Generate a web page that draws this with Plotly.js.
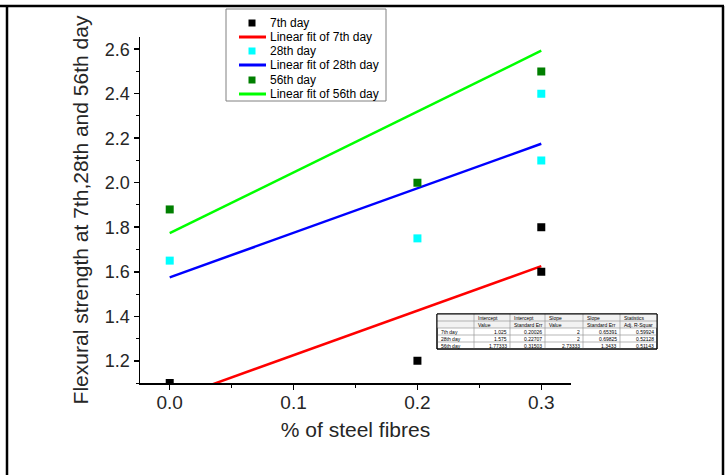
<!DOCTYPE html>
<html>
<head>
<meta charset="utf-8">
<script src="https://cdn.plot.ly/plotly-3.0.1.min.js"></script>
<style>html,body{margin:0;padding:0;background:#fff;}#chart{width:728px;height:475px;}</style>
</head>
<body>
<div id="chart"></div>
<script>
// ---- data ----
const seriesNames = ["7th day", "28th day", "56th day"];
const x7 = [0, 0.2, 0.3, 0.3];
const y7 = [1.1, 1.2, 1.6, 1.8];
const x28 = [0, 0.2, 0.3, 0.3];
const y28 = [1.65, 1.75, 2.1, 2.4];
const x56 = [0, 0.2, 0.3];
const y56 = [1.88, 2.0, 2.5];
const fitIntercept = [1.025, 1.575, 1.77333];
const fitInterceptErr = [0.20026, 0.22707, 0.31503];
const fitSlope = [2, 2, 2.73333];
const fitSlopeErr = [0.65391, 0.69825, 1.3433];
const fitAdjR2 = [0.59924, 0.52128, 0.51143];
const fitX = [0, 0.3];
const tableHead1 = ["", "Intercept", "Intercept", "Slope", "Slope", "Statistics"];
const tableHead2 = ["", "Value", "Standard Err", "Value", "Standard Err", "Adj. R-Squar"];
const xTickVals = [0, 0.1, 0.2, 0.3];
const xTickText = ["0.0", "0.1", "0.2", "0.3"];
const yTickVals = [1.2, 1.4, 1.6, 1.8, 2.0, 2.2, 2.4, 2.6];
const yTickText = ["1.2", "1.4", "1.6", "1.8", "2.0", "2.2", "2.4", "2.6"];

// ---- styles ----
const markerColors = ["#000000", "#00FFFF", "#007F00"];
const lineColors = ["#FF0000", "#0000FF", "#00FF00"];
const FONT = "Liberation Sans, Arial, sans-serif";

// plot area in pixels
const L = 140, R = 571, T = 37, B = 383;
const px2x = p => (p - L) / (R - L);
const py2y = p => (B - p) / (B - T);

const xs = [x7, x28, x56], ys = [y7, y28, y56];
const traces = [];
for (let i = 0; i < 3; i++) {
  traces.push({
    x: fitX, y: fitX.map(v => fitIntercept[i] + fitSlope[i] * v),
    mode: "lines", line: {color: lineColors[i], width: 2.5},
    showlegend: false, hoverinfo: "skip"
  });
}
for (let i = 0; i < 3; i++) {
  traces.push({
    x: xs[i], y: ys[i], mode: "markers", name: seriesNames[i],
    marker: {symbol: "square", size: 8, color: markerColors[i]},
    showlegend: false, cliponaxis: true
  });
}

const shapes = [];
const annotations = [];
// outer frame
const frameLine = {color: "#000", width: 2.5};
shapes.push({type: "line", xref: "paper", yref: "paper", x0: px2x(0), x1: px2x(724), y0: py2y(6), y1: py2y(6), line: frameLine});
shapes.push({type: "line", xref: "paper", yref: "paper", x0: px2x(7), x1: px2x(7), y0: py2y(6), y1: py2y(476), line: frameLine});
shapes.push({type: "line", xref: "paper", yref: "paper", x0: px2x(723), x1: px2x(723), y0: py2y(6), y1: py2y(476), line: frameLine});

// legend (drawn manually)
shapes.push({type: "rect", xref: "paper", yref: "paper", x0: px2x(226), x1: px2x(386), y0: py2y(9), y1: py2y(101),
  line: {color: "#808080", width: 1}, fillcolor: "rgba(255,255,255,0)"});
const legendRows = [23, 37, 51, 65, 80, 94];
const legendText = [];
for (let i = 0; i < 3; i++) {
  legendText.push(seriesNames[i]);
  legendText.push("Linear fit of " + seriesNames[i]);
}
for (let k = 0; k < 6; k++) {
  const yc = legendRows[k];
  const i = Math.floor(k / 2);
  if (k % 2 === 0) {
    shapes.push({type: "rect", xref: "paper", yref: "paper", x0: px2x(248.5), x1: px2x(255.5), y0: py2y(yc - 3.5), y1: py2y(yc + 3.5),
      line: {width: 0}, fillcolor: markerColors[i]});
  } else {
    shapes.push({type: "line", xref: "paper", yref: "paper", x0: px2x(239), x1: px2x(266), y0: py2y(yc), y1: py2y(yc),
      line: {color: lineColors[i], width: 3}});
  }
  annotations.push({xref: "paper", yref: "paper", x: px2x(268), y: py2y(yc), xanchor: "left", yanchor: "middle",
    text: legendText[k], showarrow: false, font: {family: FONT, size: 12, color: "#000"}});
}

// inset table
const colB = [437, 474, 510, 545, 583, 620, 657];
const rowB = [314, 321, 328, 335, 342, 349];
shapes.push({type: "rect", xref: "paper", yref: "paper", x0: px2x(colB[0]), x1: px2x(colB[6]), y0: py2y(rowB[0]), y1: py2y(rowB[5]),
  line: {color: "#000", width: 1}, fillcolor: "#fff", layer: "above"});
shapes.push({type: "rect", xref: "paper", yref: "paper", x0: px2x(colB[0]), x1: px2x(colB[6]), y0: py2y(rowB[0]), y1: py2y(rowB[2]),
  line: {width: 0}, fillcolor: "#f2f2f2", layer: "above"});
for (let c = 1; c < colB.length - 1; c++) {
  shapes.push({type: "line", xref: "paper", yref: "paper", x0: px2x(colB[c]), x1: px2x(colB[c]), y0: py2y(rowB[0]), y1: py2y(rowB[5]),
    line: {color: "#999", width: 0.7}, layer: "above"});
}
for (let r = 1; r < rowB.length - 1; r++) {
  shapes.push({type: "line", xref: "paper", yref: "paper", x0: px2x(colB[0]), x1: px2x(colB[6]), y0: py2y(rowB[r]), y1: py2y(rowB[r]),
    line: {color: "#999", width: 0.7}, layer: "above"});
}
shapes.push({type: "rect", xref: "paper", yref: "paper", x0: px2x(colB[0]), x1: px2x(colB[6]), y0: py2y(rowB[0]), y1: py2y(rowB[5]),
  line: {color: "#000", width: 1}, layer: "above"});
const tfont = {family: FONT, size: 5, color: "#000"};
function cellText(r, c, txt, align) {
  const yc = (rowB[r] + rowB[r + 1]) / 2;
  const xp = align === "left" ? colB[c] + 1.5 : colB[c + 1] - 1.5;
  annotations.push({xref: "paper", yref: "paper", x: px2x(xp), y: py2y(yc), xanchor: align, yanchor: "middle",
    text: txt, showarrow: false, font: tfont});
}
for (let c = 1; c < 6; c++) {
  cellText(0, c, tableHead1[c], "left");
  cellText(1, c, tableHead2[c], "left");
}
for (let i = 0; i < 3; i++) {
  cellText(2 + i, 0, seriesNames[i], "left");
  cellText(2 + i, 1, String(fitIntercept[i]), "right");
  cellText(2 + i, 2, String(fitInterceptErr[i]), "right");
  cellText(2 + i, 3, String(fitSlope[i]), "right");
  cellText(2 + i, 4, String(fitSlopeErr[i]), "right");
  cellText(2 + i, 5, String(fitAdjR2[i]), "right");
}

const layout = {
  width: 728, height: 475,
  margin: {l: L, r: 728 - R, t: T, b: 475 - B, pad: 0},
  paper_bgcolor: "#fff", plot_bgcolor: "#fff",
  showlegend: false,
  font: {family: FONT, color: "#262626"},
  xaxis: {
    range: [-0.024, 0.324], showgrid: false, zeroline: false,
    showline: true, linecolor: "#000", linewidth: 1.5,
    ticks: "outside", ticklen: 5, tickwidth: 1.5, tickcolor: "#000",
    tickvals: xTickVals, ticktext: xTickText,
    tickfont: {size: 19, color: "#262626"},
    ticklabelstandoff: -3,
    minor: {ticks: "outside", ticklen: 3, tickwidth: 1, tickcolor: "#000", dtick: 0.05, tick0: 0, showgrid: false},
    title: {text: "% of steel fibres", font: {size: 21, color: "#262626"}, standoff: 10}
  },
  yaxis: {
    range: [1.1, 2.655], showgrid: false, zeroline: false,
    showline: true, linecolor: "#000", linewidth: 1.5,
    ticks: "outside", ticklen: 5, tickwidth: 1.5, tickcolor: "#000",
    tickvals: yTickVals, ticktext: yTickText,
    tickfont: {size: 18, color: "#262626"},
    minor: {ticks: "outside", ticklen: 3, tickwidth: 1, tickcolor: "#000", dtick: 0.1, tick0: 1.1, showgrid: false},
    title: {text: "Flexural strength at 7th,28th and 56th day", font: {size: 21, color: "#262626"}, standoff: 10}
  },
  shapes: shapes,
  annotations: annotations
};

Plotly.newPlot("chart", traces, layout, {displayModeBar: false, staticPlot: true});
</script>
</body>
</html>
